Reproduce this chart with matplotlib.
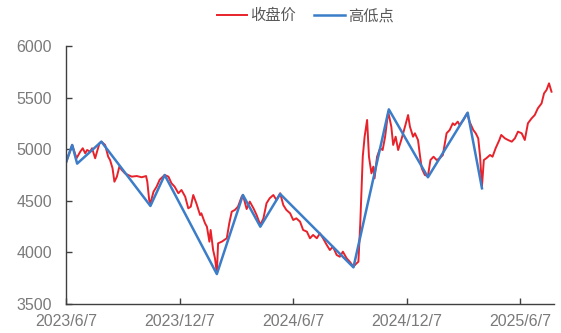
import matplotlib
matplotlib.use("Agg")
import matplotlib.pyplot as plt
import pandas as pd

# closing price (roughly weekly)
close_dates = [
    "2023-06-07", "2023-06-17", "2023-06-24", "2023-06-30", "2023-07-04", "2023-07-08",
    "2023-07-11", "2023-07-16", "2023-07-19", "2023-07-24", "2023-07-27", "2023-07-31",
    "2023-08-03", "2023-08-09", "2023-08-14", "2023-08-17", "2023-08-21", "2023-08-24",
    "2023-08-28", "2023-09-01", "2023-09-05", "2023-09-10", "2023-09-15", "2023-09-21",
    "2023-09-29", "2023-10-07", "2023-10-14", "2023-10-16", "2023-10-19", "2023-10-21",
    "2023-10-26", "2023-10-31", "2023-11-05", "2023-11-13", "2023-11-19", "2023-11-24",
    "2023-11-29", "2023-12-05", "2023-12-10", "2023-12-16", "2023-12-21", "2023-12-25",
    "2023-12-29", "2024-01-03", "2024-01-09", "2024-01-11", "2024-01-17", "2024-01-20",
    "2024-01-24", "2024-01-26", "2024-01-30", "2024-02-02", "2024-02-05", "2024-02-07",
    "2024-02-13", "2024-02-21", "2024-02-25", "2024-02-29", "2024-03-05", "2024-03-10",
    "2024-03-16", "2024-03-18", "2024-03-24", "2024-03-29", "2024-04-04", "2024-04-09",
    "2024-04-15", "2024-04-20", "2024-04-25", "2024-04-30", "2024-05-06", "2024-05-11",
    "2024-05-17", "2024-05-22", "2024-05-27", "2024-06-02", "2024-06-07", "2024-06-12",
    "2024-06-18", "2024-06-23", "2024-06-29", "2024-07-04", "2024-07-09", "2024-07-15",
    "2024-07-20", "2024-07-25", "2024-07-31", "2024-08-05", "2024-08-10", "2024-08-16",
    "2024-08-21", "2024-08-26", "2024-09-01", "2024-09-06", "2024-09-12", "2024-09-17",
    "2024-09-20", "2024-09-23", "2024-09-27", "2024-09-30", "2024-10-04", "2024-10-07",
    "2024-10-11", "2024-10-14", "2024-10-16", "2024-10-20", "2024-10-25", "2024-10-29",
    "2024-11-02", "2024-11-07", "2024-11-12", "2024-11-15", "2024-11-19", "2024-11-23",
    "2024-11-28", "2024-12-04", "2024-12-09", "2024-12-12", "2024-12-17", "2024-12-20",
    "2024-12-25", "2024-12-28", "2024-12-31", "2025-01-05", "2025-01-10", "2025-01-14",
    "2025-01-19", "2025-01-24", "2025-01-29", "2025-02-03", "2025-02-09", "2025-02-14",
    "2025-02-19", "2025-02-22", "2025-02-27", "2025-03-02", "2025-03-08", "2025-03-14",
    "2025-03-18", "2025-03-24", "2025-03-28", "2025-04-01", "2025-04-04", "2025-04-07",
    "2025-04-10", "2025-04-14", "2025-04-20", "2025-04-24", "2025-04-29", "2025-05-05",
    "2025-05-08", "2025-05-14", "2025-05-19", "2025-05-25", "2025-05-30", "2025-06-04",
    "2025-06-10", "2025-06-15", "2025-06-20", "2025-06-26", "2025-07-01", "2025-07-06",
    "2025-07-12", "2025-07-16", "2025-07-20", "2025-07-24", "2025-07-28",
]
close_values = [
    4869, 5041, 4912, 4976, 5009, 4960,
    4992, 4976, 5009, 4912, 4976, 5057,
    5073, 5041, 4927, 4895, 4815, 4685,
    4734, 4831, 4798, 4766, 4750, 4734,
    4740, 4728, 4740, 4685, 4508, 4476,
    4588, 4637, 4705, 4750, 4734, 4669,
    4637, 4573, 4605, 4540, 4427, 4443,
    4556, 4476, 4362, 4379, 4282, 4249,
    4104, 4217, 4023, 3943, 3797, 4088,
    4104, 4137, 4282, 4395, 4411, 4443,
    4540, 4556, 4420, 4492, 4427, 4362,
    4266, 4330, 4476, 4524, 4556, 4508,
    4573, 4459, 4411, 4379, 4314, 4330,
    4298, 4217, 4201, 4137, 4169, 4137,
    4185, 4137, 4072, 4023, 4055, 3975,
    3958, 4007, 3943, 3910, 3862, 3894,
    3910, 4282, 4927, 5121, 5283, 4927,
    4766, 4831, 4718, 4927, 5009, 4992,
    5121, 5363, 5218, 5041, 5121, 4992,
    5089, 5218, 5331, 5218, 5121, 5154,
    5089, 4944, 4815, 4750, 4740, 4895,
    4927, 4895, 4912, 4944, 5154, 5186,
    5251, 5234, 5267, 5234, 5283, 5347,
    5267, 5186, 5154, 5105, 4927, 4640,
    4895, 4912, 4944, 4927, 5009, 5089,
    5138, 5105, 5089, 5073, 5105, 5170,
    5154, 5089, 5251, 5299, 5331, 5396,
    5444, 5541, 5574, 5638, 5557,
]

# turning points (high / low)
pivot_dates = [
    "2023-06-07", "2023-06-17", "2023-06-25", "2023-08-03", "2023-10-21", "2023-11-13",
    "2024-02-05", "2024-03-18", "2024-04-15", "2024-05-17", "2024-09-12", "2024-11-08",
    "2025-01-10", "2025-03-15", "2025-04-07",
]
pivot_values = [
    4870, 5041, 4860, 5073, 4450, 4750,
    3790, 4556, 4249, 4566, 3855, 5386,
    4728, 5354, 4621,
]

tick_dates = ["2023-06-07", "2023-12-07", "2024-06-07", "2024-12-07", "2025-06-07"]
tick_labels = ["2023/6/7", "2023/12/7", "2024/6/7", "2024/12/7", "2025/6/7"]
y_ticks = [3500, 4000, 4500, 5000, 5500, 6000]

plt.rcParams['font.family'] = ['Liberation Sans', 'Noto Sans CJK SC', 'DejaVu Sans']

fig = plt.figure(figsize=(5.61, 3.33), dpi=100)
ax = fig.add_axes([0.1176, 0.0871, 0.8699, 0.7748])

ax.plot(pd.to_datetime(close_dates), close_values, color='#E8222B', lw=1.4, label='收盘价')
ax.plot(pd.to_datetime(pivot_dates), pivot_values, color='#3B7DC8', lw=1.8, label='高低点')

ax.set_xlim(pd.Timestamp("2023-06-07"), pd.Timestamp("2025-08-01"))
ax.set_ylim(3500, 6000)
ax.set_xticks(pd.to_datetime(tick_dates))
ax.set_xticklabels(tick_labels)
ax.set_yticks(y_ticks)

for side in ['top', 'right']:
    ax.spines[side].set_visible(False)
for side in ['left', 'bottom']:
    ax.spines[side].set_color('#404040')
    ax.spines[side].set_linewidth(1.0)
ax.tick_params(direction='in', length=4, width=1.0, color='#404040',
               labelsize=11.5, labelcolor='#7a7a7a')
ax.tick_params(axis='y', pad=10)
ax.tick_params(axis='x', pad=7)

fig.legend(loc='center', bbox_to_anchor=(0.544, 0.952), ncol=2, frameon=False,
           fontsize=11, handlelength=2.0, handletextpad=0.2, columnspacing=1.2,
           labelcolor='#595959')

fig.savefig("out.png", dpi=100)
